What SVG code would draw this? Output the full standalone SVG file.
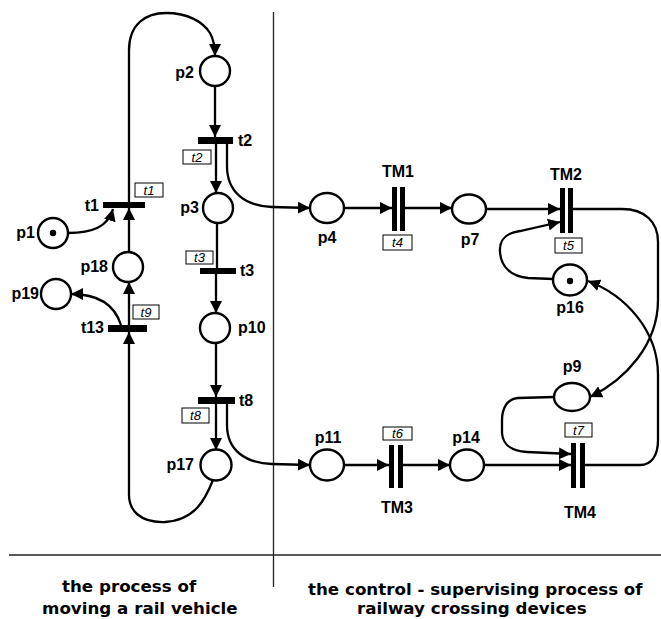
<svg xmlns="http://www.w3.org/2000/svg" width="661" height="619" viewBox="0 0 661 619">
<style>
.pl{fill:#fff;stroke:#000;stroke-width:2.4}
.bar{fill:#000}
.tok{fill:#000}
.lbl{font-family:"Liberation Sans",Arial,sans-serif;font-weight:bold;font-size:16px;fill:#000}
.box{fill:#fff;stroke:#000;stroke-width:1}
.bt{font-family:"Liberation Sans",Arial,sans-serif;font-style:italic;font-size:13px;text-anchor:middle;fill:#000}
.cn{fill:none;stroke:#000;stroke-width:2.3}
.ar{marker-end:url(#ah)}
.sep{stroke:#222;stroke-width:1.3;fill:none}
.cap{font-family:"DejaVu Sans",Verdana,sans-serif;font-weight:bold;font-size:16.7px;fill:#000}
</style>
<defs>
<marker id="ah" viewBox="0 0 10 10" refX="10" refY="5" markerWidth="12" markerHeight="12" markerUnits="userSpaceOnUse" orient="auto"><path d="M0,0 L10,5 L0,10 z" fill="#000"/></marker>
</defs>
<rect x="0" y="0" width="661" height="619" fill="#fff"/>

<g id="separators">
<line class="sep" x1="273.5" y1="12" x2="273.5" y2="587"/>
<line class="sep" x1="9" y1="555" x2="661" y2="555"/>
</g>

<g id="connectors">
<path class="cn ar" d="M129,202 L129,50 C129,24 146,13 166,13 C188,13 203,22 210,33 C214,40 215,48 215,56"/>
<path class="cn ar" d="M215,86 L215,137"/>
<path class="cn ar" d="M216,144 L216,193"/>
<path class="cn ar" d="M227,144 L227,166 C227,192 245,206 272,207 L310,208"/>
<path class="cn" d="M217,223 L217,268"/>
<path class="cn ar" d="M216,274 L216,313"/>
<path class="cn ar" d="M216,343 L216,397"/>
<path class="cn ar" d="M216,404 L216,450"/>
<path class="cn ar" d="M227,404 L227,425 C227,450 245,463 272,464 L310,465"/>
<path class="cn ar" d="M213,480 C205,500 195,520 165,522 C140,523 129,510 129,495 L129,332"/>
<path class="cn ar" d="M129,325 L129,282"/>
<path class="cn ar" d="M129,252 L129,208"/>
<path class="cn ar" d="M68,233 C92,233 108,227 113,209"/>
<path class="cn ar" d="M121,325 C115,306 100,294 71,294"/>
<path class="cn ar" d="M344,208 L392,208"/>
<path class="cn ar" d="M405,208 L452,208"/>
<path class="cn ar" d="M486,209 L560,209"/>
<path class="cn ar" d="M553,279 L528,278 C510,276 501,266 500,252 C499,239 506,233 520,231 L560,222"/>
<path class="cn ar" d="M573,209 L622,209 C645,209 658,222 658,242 L658,300 C658,345 625,380 590,397"/>
<path class="cn ar" d="M554,397 L518,398 C506,399 502,410 502,420 L502,433 C503,446 512,451 527,452 L571,454"/>
<path class="cn ar" d="M344,465 L389,465"/>
<path class="cn ar" d="M403,465 L450,465"/>
<path class="cn ar" d="M484,465 L571,465"/>
<path class="cn ar" d="M585,465 L640,465 C652,465 658,455 658,440 L658,375 C658,330 625,295 588,281"/>
</g>

<g id="p1"><circle class="pl" cx="53" cy="233" r="15"/><circle class="tok" cx="53" cy="233" r="3.2"/><text class="lbl" x="35" y="238" text-anchor="end">p1</text></g>
<g id="p2"><circle class="pl" cx="215" cy="71" r="15"/><text class="lbl" x="194" y="78" text-anchor="end">p2</text></g>
<g id="p3"><circle class="pl" cx="218" cy="208" r="15"/><text class="lbl" x="199" y="213" text-anchor="end">p3</text></g>
<g id="p10"><circle class="pl" cx="215" cy="328" r="15"/><text class="lbl" x="238" y="333">p10</text></g>
<g id="p17"><circle class="pl" cx="216" cy="465" r="15.5"/><text class="lbl" x="194" y="470" text-anchor="end">p17</text></g>
<g id="p18"><circle class="pl" cx="128" cy="267" r="15"/><text class="lbl" x="108" y="272" text-anchor="end">p18</text></g>
<g id="p19"><circle class="pl" cx="56" cy="294" r="15"/><text class="lbl" x="39" y="299" text-anchor="end">p19</text></g>

<g id="t1"><rect class="bar" x="103" y="202" width="42" height="6"/><text class="lbl" x="99" y="211" text-anchor="end">t1</text><rect class="box" x="135" y="183" width="28" height="14"/><text class="bt" x="149" y="195">t1</text></g>
<g id="t2"><rect class="bar" x="198" y="137" width="35" height="7"/><text class="lbl" x="238" y="146">t2</text><rect class="box" x="183" y="150" width="28" height="14"/><text class="bt" x="197" y="162">t2</text></g>
<g id="t3"><rect class="bar" x="200" y="268" width="36" height="6"/><text class="lbl" x="240" y="276">t3</text><rect class="box" x="186" y="251" width="27" height="13"/><text class="bt" x="199.5" y="262">t3</text></g>
<g id="t8"><rect class="bar" x="198" y="397" width="37" height="7"/><text class="lbl" x="239" y="406">t8</text><rect class="box" x="182" y="408" width="27" height="15"/><text class="bt" x="195.5" y="420">t8</text></g>
<g id="t13"><rect class="bar" x="108" y="325" width="39" height="7"/><text class="lbl" x="104" y="333" text-anchor="end">t13</text><rect class="box" x="133" y="305" width="26" height="14"/><text class="bt" x="146" y="317">t9</text></g>

<g id="p4"><ellipse class="pl" cx="327" cy="208" rx="17" ry="15"/><text class="lbl" x="327" y="243" text-anchor="middle">p4</text></g>
<g id="p7"><ellipse class="pl" cx="469" cy="209" rx="17" ry="14.5"/><text class="lbl" x="470" y="245" text-anchor="middle">p7</text></g>
<g id="p16"><ellipse class="pl" cx="570" cy="280" rx="17" ry="15.5"/><circle class="tok" cx="570" cy="281" r="3.2"/><text class="lbl" x="570" y="313" text-anchor="middle">p16</text></g>
<g id="p9"><ellipse class="pl" cx="572" cy="397" rx="18" ry="14"/><text class="lbl" x="572" y="372" text-anchor="middle">p9</text></g>
<g id="p11"><ellipse class="pl" cx="327" cy="465" rx="17" ry="15.5"/><text class="lbl" x="328" y="443" text-anchor="middle">p11</text></g>
<g id="p14"><ellipse class="pl" cx="467" cy="465" rx="17" ry="15.5"/><text class="lbl" x="466" y="443" text-anchor="middle">p14</text></g>

<g id="TM1"><rect class="bar" x="392" y="187" width="5" height="44"/><rect class="bar" x="400" y="187" width="5" height="44"/><text class="lbl" x="398" y="177" text-anchor="middle">TM1</text><rect class="box" x="383" y="235" width="29" height="15"/><text class="bt" x="397.5" y="247">t4</text></g>
<g id="TM2"><rect class="bar" x="560" y="188" width="5" height="45"/><rect class="bar" x="568" y="188" width="5" height="45"/><text class="lbl" x="566" y="180" text-anchor="middle">TM2</text><rect class="box" x="555" y="238" width="27" height="15"/><text class="bt" x="568.5" y="250">t5</text></g>
<g id="TM3"><rect class="bar" x="389" y="445" width="5" height="43"/><rect class="bar" x="398" y="445" width="5" height="43"/><text class="lbl" x="397" y="513" text-anchor="middle">TM3</text><rect class="box" x="383" y="427" width="29" height="13"/><text class="bt" x="397.5" y="438">t6</text></g>
<g id="TM4"><rect class="bar" x="571" y="443" width="5" height="45"/><rect class="bar" x="580" y="443" width="5" height="45"/><text class="lbl" x="580" y="518" text-anchor="middle">TM4</text><rect class="box" x="565" y="423" width="27" height="14"/><text class="bt" x="578.5" y="435">t7</text></g>

<g id="captions">
<text class="cap" x="62" y="592">the process of</text>
<text class="cap" x="42" y="614">moving a rail vehicle</text>
<text class="cap" x="308" y="595">the control - supervising process of</text>
<text class="cap" x="357" y="614">railway crossing devices</text>
</g>
</svg>
